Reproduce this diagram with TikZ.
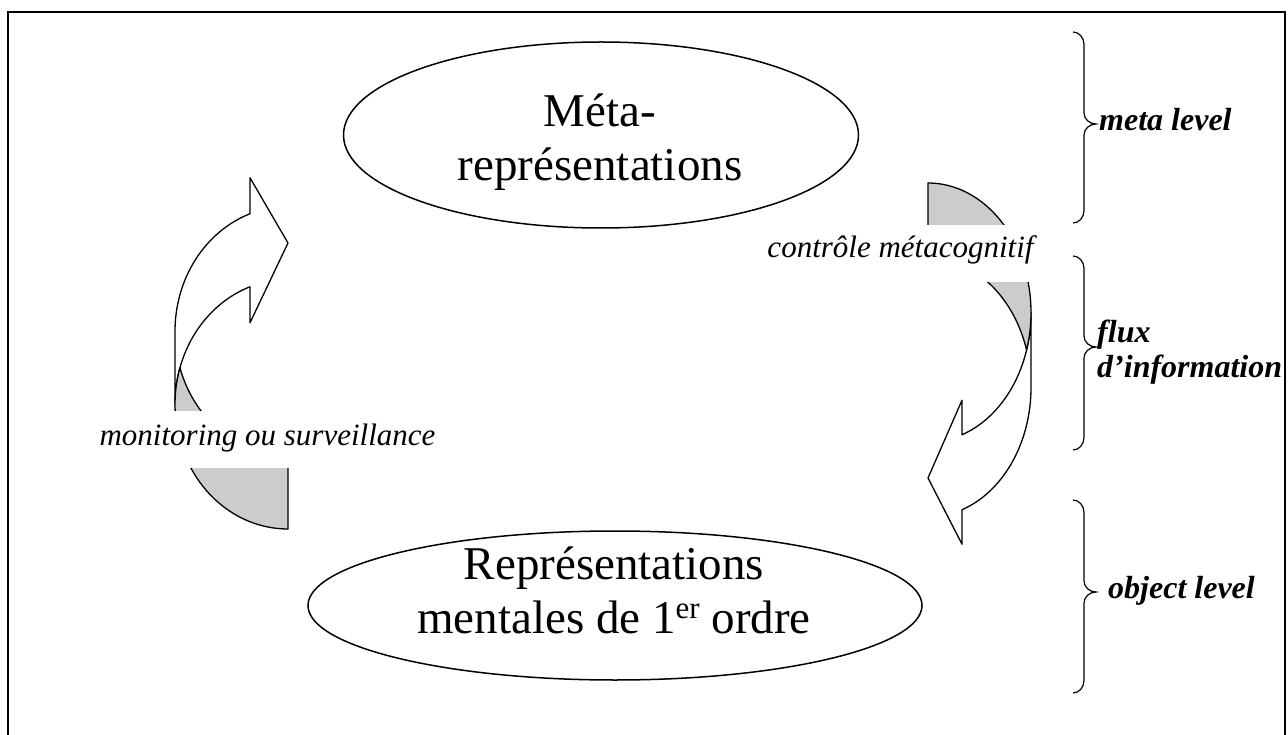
\documentclass[tikz,border=0pt]{standalone}
\usepackage{fontspec}
\setmainfont{Liberation Serif}
\usetikzlibrary{shapes.geometric}

\definecolor{foldgrey}{gray}{0.8}

% right curly brace: top, tip, bottom
\newcommand{\levelbrace}[3]{%
  \draw[bracket] (1073,#1) .. controls (1079,#1) and (1084,#1+5.5) .. (1084,#1+12.5)
    -- (1084,#2-11) .. controls (1084,#2-5) and (1089.5,#2) .. (1096,#2)
    .. controls (1089.5,#2) and (1084,#2+5) .. (1084,#2+11)
    -- (1084,#3-12.5) .. controls (1084,#3-5.5) and (1079,#3) .. (1073,#3);}

\begin{document}
\begin{tikzpicture}[x=1pt, y=-1pt,
  outline/.style={draw=black, line width=1.3pt, line join=round},
  bandfront/.style={outline, fill=white},
  bandback/.style={outline, fill=foldgrey},
  arcplot/.style={domain=0:1, samples=60, variable=\pp},
  bubble/.style={draw, ellipse, line width=1.5pt, inner sep=0pt},
  bubbletext/.style={align=center, inner sep=0pt, font=\fontsize{47}{54}\selectfont},
  flowlabel/.style={fill=white, inner xsep=3pt, inner ysep=0pt, minimum height=57pt,
    font=\fontsize{31}{36}\selectfont\itshape},
  levellabel/.style={inner sep=0pt, font=\fontsize{32}{35}\selectfont\bfseries\itshape},
  bracket/.style={draw, line width=1.2pt}]

\useasboundingbox (0,0) rectangle (1288,735);
\clip (0,0) rectangle (1288,735);

% outer frame
\draw[line width=1.6pt] (8,745) -- (8,12) -- (1285,12) -- (1285,745);

% left curved arrow (upwards, pointing right); y grows downwards, angles follow
\path[bandfront] (175,331.25)
  -- plot[arcplot] ({288+113*cos(180+70.35*\pp)},{331.25+124.75*sin(180+70.35*\pp)})
  -- (250,177.77) -- (288,243) -- (250,322.77) -- (250,286.77)
  -- plot[arcplot] ({288+113*cos(250.35-70.35*\pp)},{404.25+124.75*sin(250.35-70.35*\pp)})
  -- cycle;
\path[bandback] (288,529) -- (288,456)
  -- plot[arcplot] ({288+113*cos(90+72.99*\pp)},{331.25+124.75*sin(90+72.99*\pp)})
  -- plot[arcplot] ({288+113*cos(197.01-107.01*\pp)},{404.25+124.75*sin(197.01-107.01*\pp)})
  -- cycle;

% right curved arrow (downwards, pointing left)
\path[bandfront] (1031,312.5)
  -- plot[arcplot] ({928+103*cos(70.73*\pp)},{312.5+129.5*sin(70.73*\pp)})
  -- (962,400.2) -- (928,478) -- (962,544.2) -- (962,509.7)
  -- plot[arcplot] ({928+103*cos(70.73-70.73*\pp)},{387.5+129.5*sin(70.73-70.73*\pp)})
  -- cycle;
\path[bandback] (928,183) -- (928,258)
  -- plot[arcplot] ({928+103*cos(270+73.17*\pp)},{387.5+129.5*sin(270+73.17*\pp)})
  -- plot[arcplot] ({928+103*cos(376.83-106.83*\pp)},{312.5+129.5*sin(376.83-106.83*\pp)})
  -- cycle;

% flow labels on white boxes
\node[flowlabel, text height=20pt, text depth=8pt] (monitor) at (267.5,439) {monitoring ou surveillance};
\node[flowlabel, text height=18.5pt, text depth=9.5pt] (control) at (900.5,253.5) {contrôle métacognitif};

% representation levels
\node[bubble, minimum width=515pt, minimum height=186pt] (meta) at (601,135) {};
\node[bubbletext] (metatext) at (600,142) {Méta-\\représentations};
\node[bubble, minimum width=614pt, minimum height=149pt] (object) at (615,605.5) {};
\node[bubbletext] (objecttext) at (614,590.5)
  {Représentations\\mentales de 1\raisebox{15.5pt}{\fontsize{31}{31}\selectfont er} ordre};

% level braces and their labels
\levelbrace{32}{124}{223}
\levelbrace{256}{347}{450}
\levelbrace{500}{592}{693}
\node[levellabel, anchor=base west] (metalevel) at (1099,131) {meta level};
\node[levellabel, align=left, anchor=west] (flux) at (1097,352) {flux\\d’information};
\node[levellabel, anchor=base west] (objlevel) at (1108,598) {object level};
\end{tikzpicture}
\end{document}
